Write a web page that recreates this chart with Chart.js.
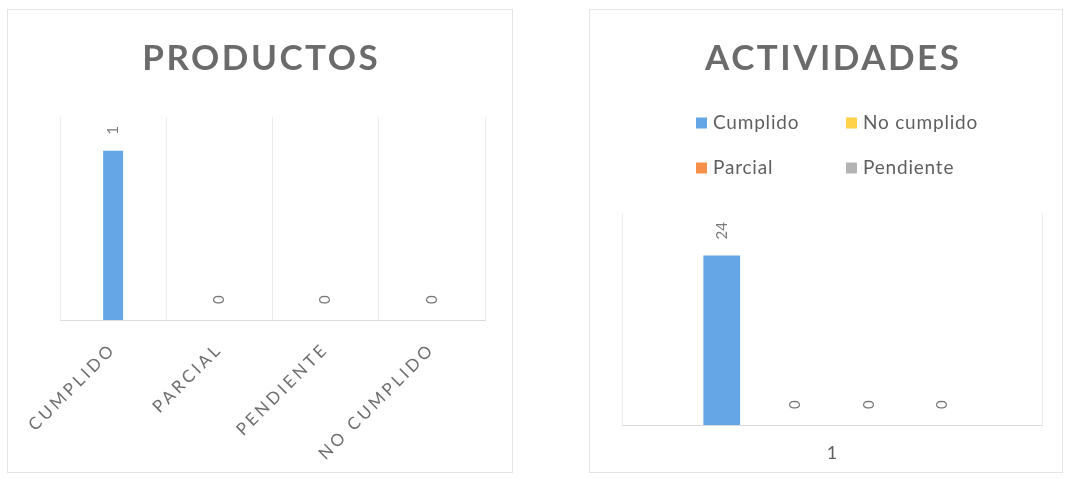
<!DOCTYPE html>
<html>
<head>
<meta charset="utf-8">
<script src="https://cdn.jsdelivr.net/npm/chart.js@4/dist/chart.umd.min.js"></script>
<style>
  html, body { margin: 0; padding: 0; background: #ffffff; }
  body { width: 1065px; height: 478px; position: relative; overflow: hidden; }
  .box { position: absolute; outline: 1px solid #e4e4e4; }
  #boxL { left: 8px; top: 10px; width: 504px; height: 462px; }
  #boxR { left: 590px; top: 10px; width: 472px; height: 462px; }
  canvas { display: block; }
</style>
</head>
<body>
<div class="box" id="boxL"><canvas id="cL" width="504" height="462"></canvas></div>
<div class="box" id="boxR"><canvas id="cR" width="472" height="462"></canvas></div>
<script>
// ---- data ----
const productosTitle = 'PRODUCTOS';
const productosCategories = ['CUMPLIDO', 'PARCIAL', 'PENDIENTE', 'NO CUMPLIDO'];
const productosValues = [1, 0, 0, 0];

const actividadesTitle = 'ACTIVIDADES';
const actividadesCategories = ['1'];
const actividadesSeries = ['Cumplido', 'No cumplido', 'Parcial', 'Pendiente'];
const actividadesValues = [[24], [0], [0], [0]];

// ---- styles ----
const FONT = 'Lato, "Open Sans", sans-serif';
const BLUE = '#65a6e6';
const seriesColors = ['#65a6e6', '#ffd24a', '#f5904a', '#b4b4b4'];

Chart.defaults.font.family = FONT;
Chart.defaults.color = '#6f6f6f';
Chart.defaults.animation = false;

// letter spacing for axis text
const spacingPlugin = {
  id: 'spacing',
  beforeDraw(chart, args, opts) {
    chart.ctx.letterSpacing = (opts.px || 0) + 'px';
  }
};

// spaced, bold chart title
const spacedTitle = {
  id: 'spacedTitle',
  afterDraw(chart, args, opts) {
    const ctx = chart.ctx;
    const ca = chart.chartArea;
    const cx = opts.center === 'area' ? (ca.left + ca.right) / 2 : chart.width / 2;
    ctx.save();
    ctx.letterSpacing = opts.spacing + 'px';
    ctx.font = 'bold ' + opts.size + 'px ' + FONT;
    ctx.fillStyle = opts.color;
    ctx.textAlign = 'center';
    ctx.textBaseline = 'alphabetic';
    ctx.fillText(opts.text, cx + opts.spacing / 2, opts.baseline);
    ctx.restore();
  }
};

// rotated value labels
const valueLabels = {
  id: 'valueLabels',
  afterDatasetsDraw(chart, args, opts) {
    const ctx = chart.ctx;
    ctx.save();
    ctx.letterSpacing = '0px';
    ctx.font = (opts.size || 15) + 'px ' + FONT;
    ctx.fillStyle = opts.color || '#7a7a7a';
    ctx.textAlign = 'left';
    ctx.textBaseline = 'middle';
    chart.data.datasets.forEach((ds, di) => {
      const meta = chart.getDatasetMeta(di);
      if (meta.hidden) return;
      meta.data.forEach((el, i) => {
        const v = ds.data[i];
        ctx.save();
        ctx.translate(el.x, el.y - (opts.gap || 16));
        ctx.rotate(-Math.PI / 2);
        ctx.fillText(String(v), 0, 0);
        ctx.restore();
      });
    });
    ctx.restore();
  }
};

// two-column legend
const gridLegend = {
  id: 'gridLegend',
  afterDraw(chart, args, opts) {
    const ctx = chart.ctx;
    const ca = chart.chartArea;
    const cx = (ca.left + ca.right) / 2;
    ctx.save();
    ctx.letterSpacing = opts.spacing + 'px';
    ctx.font = opts.size + 'px ' + FONT;
    ctx.textAlign = 'left';
    ctx.textBaseline = 'middle';
    chart.data.datasets.forEach((ds, i) => {
      const col = i % 2, row = Math.floor(i / 2);
      const x = cx + opts.colOffsets[col];
      const y = opts.rowY[row];
      ctx.fillStyle = ds.backgroundColor;
      ctx.fillRect(x, y - 5.5, 11, 11);
      ctx.fillStyle = opts.color;
      ctx.fillText(ds.label, x + 17, y);
    });
    ctx.restore();
  }
};

// ---- PRODUCTOS ----
new Chart(document.getElementById('cL'), {
  type: 'bar',
  data: {
    labels: productosCategories,
    datasets: [{
      label: productosTitle,
      data: productosValues,
      backgroundColor: BLUE,
      categoryPercentage: 0.8,
      barPercentage: 0.235
    }]
  },
  plugins: [spacingPlugin, valueLabels, spacedTitle],
  options: {
    responsive: false,
    layout: { padding: { left: 52, right: 27, top: 107, bottom: 0 } },
    plugins: {
      legend: { display: false },
      title: { display: false },
      tooltip: { enabled: false },
      spacing: { px: 3.2 },
      spacedTitle: { text: productosTitle, size: 35, spacing: 2.5, color: '#6b6b6b', baseline: 60, center: 'canvas' },
      valueLabels: { size: 15, gap: 16, color: '#7a7a7a' }
    },
    scales: {
      x: {
        offset: true,
        grid: { display: true, offset: true, color: '#ededed', drawTicks: false },
        border: { color: '#dcdcdc' },
        ticks: { minRotation: 45, maxRotation: 45, padding: 19, color: '#6f6f6f', font: { size: 17, family: FONT } },
        afterFit(s) { s.height = 152; }
      },
      y: {
        display: false,
        min: 0, max: 1.2
      }
    }
  }
});

// ---- ACTIVIDADES ----
new Chart(document.getElementById('cR'), {
  type: 'bar',
  data: {
    labels: actividadesCategories,
    datasets: actividadesSeries.map((name, i) => ({
      label: name,
      data: actividadesValues[i],
      backgroundColor: seriesColors[i],
      categoryPercentage: 0.7,
      barPercentage: 0.5
    }))
  },
  plugins: [spacingPlugin, valueLabels, gridLegend, spacedTitle],
  options: {
    responsive: false,
    layout: { padding: { left: 32, right: 20, top: 203, bottom: 0 } },
    plugins: {
      legend: { display: false },
      title: { display: false },
      tooltip: { enabled: false },
      spacing: { px: 0 },
      spacedTitle: { text: actividadesTitle, size: 35, spacing: 2.5, color: '#6b6b6b', baseline: 60, center: 'area' },
      valueLabels: { size: 15, gap: 16, color: '#7a7a7a' },
      gridLegend: { size: 19, spacing: 0.8, color: '#5f5f5f', colOffsets: [-136, 14], rowY: [113, 158] }
    },
    scales: {
      x: {
        offset: true,
        grid: { display: true, offset: true, color: '#ededed', drawTicks: false },
        border: { color: '#dcdcdc' },
        ticks: { padding: 17, color: '#5f5f5f', font: { size: 18, family: FONT } },
        afterFit(s) { s.height = 47; }
      },
      y: {
        display: false,
        min: 0, max: 30
      }
    }
  }
});
</script>
</body>
</html>
